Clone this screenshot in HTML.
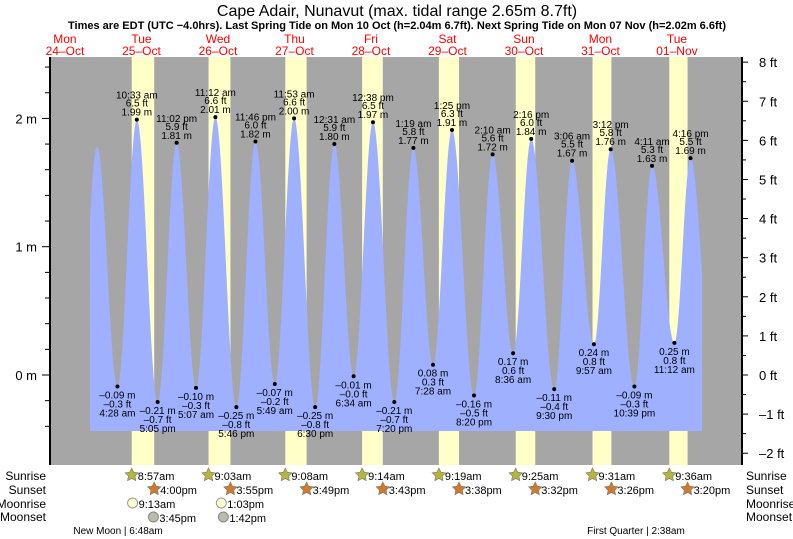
<!DOCTYPE html>
<html><head><meta charset="utf-8"><style>
html,body{margin:0;padding:0;background:#fff;}
svg{display:block;font-family:"Liberation Sans",sans-serif;}
</style></head><body>
<svg id="chart" width="793" height="539" viewBox="0 0 793 539" xmlns="http://www.w3.org/2000/svg">
<text x="397" y="16" font-size="16" text-anchor="middle" fill="#000">Cape Adair, Nunavut (max. tidal range 2.65m 8.7ft)</text>
<text x="397" y="29" font-size="11" font-weight="bold" text-anchor="middle" textLength="658" lengthAdjust="spacingAndGlyphs" fill="#000">Times are EDT (UTC −4.0hrs). Last Spring Tide on Mon 10 Oct (h=2.04m 6.7ft). Next Spring Tide on Mon 07 Nov (h=2.02m 6.6ft)</text>
<g id="plot"></g>
</svg>
<script>
// ---- data ----
const dayNames = ["Mon","Tue","Wed","Thu","Fri","Sat","Sun","Mon","Tue"];
const dayDates = ["24\u2013Oct","25\u2013Oct","26\u2013Oct","27\u2013Oct","28\u2013Oct","29\u2013Oct","30\u2013Oct","31\u2013Oct","01\u2013Nov"];
// tide extremes: day index (0 = Oct 24), time string, height (m)
const tideDay = [0,0,1,1,1,1,2,2,2,2,3,3,3,4,4,4,4,5,5,5,5,6,6,6,6,7,7,7,7,8,8,8,8];
const tideTime = ["3:50 pm","10:05 pm","4:28 am","10:33 am","5:05 pm","11:02 pm","5:07 am","11:12 am","5:46 pm","11:46 pm","5:49 am","11:53 am","6:30 pm","12:31 am","6:34 am","12:38 pm","7:20 pm","1:19 am","7:28 am","1:25 pm","8:20 pm","2:10 am","8:36 am","2:16 pm","9:30 pm","3:06 am","9:57 am","3:12 pm","10:39 pm","4:11 am","11:12 am","4:16 pm","11:20 pm"];
const tideHeight = [-0.20,1.78,-0.09,1.99,-0.21,1.81,-0.10,2.01,-0.25,1.82,-0.07,2.00,-0.25,1.80,-0.01,1.97,-0.21,1.77,0.08,1.91,-0.16,1.72,0.17,1.84,-0.11,1.67,0.24,1.76,-0.09,1.63,0.25,1.69,-0.05];
const tideLabeled = [false,false,true,true,true,true,true,true,true,true,true,true,true,true,true,true,true,true,true,true,true,true,true,true,true,true,true,true,true,true,true,true,false];
const sunrise = ["8:57am","9:03am","9:08am","9:14am","9:19am","9:25am","9:31am","9:36am"];
const sunset = ["4:00pm","3:55pm","3:49pm","3:43pm","3:38pm","3:32pm","3:26pm","3:20pm"];
const moonriseDay = [1,2]; const moonrise = ["9:13am","1:03pm"];
const moonsetDay = [1,2]; const moonset = ["3:45pm","1:42pm"];
const mTicks = [0,1,2];
const ftTicks = [-2,-1,0,1,2,3,4,5,6,7,8];

// ---- scales ----
const X0 = 50, X1 = 742, Y0 = 57, Y1 = 465;
const PXDAY = 76.5, MID0 = 103.2 - PXDAY; // midnight Oct 24
const Y_ZERO = 375, PXM = 128.3;
const xs = d => MID0 + d * PXDAY;
const ys = m => Y_ZERO - m * PXM;
function parseT(s){ const m = s.match(/(\d+):(\d+)\s*(am|pm)/); let h=+m[1]%12; if(m[3]==='pm')h+=12; return (h*60+ +m[2])/1440; }
const NS="http://www.w3.org/2000/svg";
const plot=document.getElementById('plot');
function el(tag, attrs, parent){ const e=document.createElementNS(NS,tag); for(const k in attrs)e.setAttribute(k,attrs[k]); (parent||plot).appendChild(e); return e; }
function txt(x,y,s,size,fill,anchor,parent){ const t=el('text',{x:x,y:y,'font-size':size,fill:fill||'#000','text-anchor':anchor||'middle'},parent); t.textContent=s; return t; }

// background
const bg=el('rect',{x:X0,y:Y0,width:X1-X0,height:Y1-Y0,fill:'#a6a6a6'});


// daylight
for(let i=0;i<sunrise.length;i++){
  const d=i+1; const a=xs(d+parseT(sunrise[i])), b=xs(d+0.5+parseT(sunset[i].replace('pm','am'))) ;
  const r=el('rect',{x:a,y:Y0,width:b-a,height:Y1-Y0,fill:'#ffffc8'});
  
  
}
// tide curve
const tT = tideTime.map((s,i)=>tideDay[i]+parseT(s));
function hAt(t){ for(let i=0;i<tT.length-1;i++){ if(t>=tT[i]&&t<=tT[i+1]){ const f=(t-tT[i])/(tT[i+1]-tT[i]); return tideHeight[i]+(tideHeight[i+1]-tideHeight[i])*(1-Math.cos(Math.PI*f))/2; } } return 0; }
const FX0=90, FX1=702, FY=431;
let dpath=`M${FX0},${FY}`;
for(let x=FX0;x<=FX1;x+=0.5){ dpath+=` L${x},${ys(hAt((x-MID0)/PXDAY)).toFixed(2)}`; }
dpath+=` L${FX1},${FY} Z`;
const area=el('path',{d:dpath,fill:'#9eb0ff'});


// extremes
for(let i=0;i<tT.length;i++){
  if(!tideLabeled[i]) continue;
  const x=xs(tT[i]), y=ys(tideHeight[i]);
  const g=el('g',{});
  
  
  el('circle',{cx:x,cy:y,r:2,fill:'#000'},g);
  const m=tideHeight[i].toFixed(2).replace('-','\u2013')+' m';
  let ftv=(tideHeight[i]*3.28084).toFixed(1); if(ftv==='-0.0')ftv='\u20130.0'; ftv=ftv.replace('-','\u2013')+' ft';
  if(tideHeight[i]>1){ txt(x,y-21,tideTime[i],10,'#000','middle',g); txt(x,y-13,ftv,10,'#000','middle',g); txt(x,y-4,m,10,'#000','middle',g); }
  else { txt(x,y+12,m,10,'#000','middle',g); txt(x,y+21,ftv,10,'#000','middle',g); txt(x,y+30,tideTime[i],10,'#000','middle',g); }
}
// axes
const ax=el('g',{});


el('line',{x1:X0,y1:Y0,x2:X0,y2:Y1,stroke:'#000','stroke-width':2},ax);
for(let v=-0.4;v<=2.45;v+=0.2){ el('line',{x1:X0-(Math.abs(v-Math.round(v))<0.01?8:5),y1:ys(v),x2:X0,y2:ys(v),stroke:'#000'},ax); }
mTicks.forEach(v=>txt(37,ys(v)+5,v+' m',13,'#000','end',ax));
const ax2=el('g',{});


el('line',{x1:X1,y1:Y0,x2:X1,y2:Y1,stroke:'#000','stroke-width':2},ax2);
for(let v=-2.5;v<=8.5;v+=0.5){ const y=ys(v*0.3048); if(y<Y0||y>Y1)continue; el('line',{x1:X1,y1:y,x2:X1+(v%1===0?6:4),y2:y,stroke:'#000'},ax2); }
ftTicks.forEach(v=>txt(759,ys(v*0.3048)+5,(v<0?'\u2013'+(-v):v)+' ft',13,'#000','start',ax2));
// day labels
for(let i=0;i<dayNames.length;i++){
  const x=xs(i+0.5);
  const g=el('g',{});
  
  
  txt(x,43,dayNames[i],12,'#ff0000','middle',g); txt(x,55,dayDates[i],12,'#ff0000','middle',g);
}
// row labels
const rows=["Sunrise","Sunset","Moonrise","Moonset"], ry=[480,494,508,521];
rows.forEach((r,i)=>{ const a=txt(46,ry[i],r,12,'#000','end');  
  const b=txt(746,ry[i],r,12,'#000','start');   });
function star(cx,cy,fill){ let p=''; for(let k=0;k<10;k++){ const r=k%2?3.5:7, a=-Math.PI/2+k*Math.PI/5; p+=(k?'L':'M')+(cx+r*Math.cos(a)).toFixed(1)+','+(cy+r*Math.sin(a)).toFixed(1);} return el('path',{d:p+'Z',fill:fill,stroke:'#777','stroke-width':0.6}); }
for(let i=0;i<sunrise.length;i++){
  const d=i+1;
  const x1=xs(d+parseT(sunrise[i])); const s1=star(x1,475,'#b5b53a');
   
  txt(x1+6,480,sunrise[i],11,'#000','start');
  const x2=xs(d+parseT(sunset[i])); const s2=star(x2,489,'#d07a2a');
   
  txt(x2+6,494,sunset[i],11,'#000','start');
}
for(let i=0;i<moonrise.length;i++){
  const x=xs(moonriseDay[i]+parseT(moonrise[i])); const c=el('circle',{cx:x,cy:503,r:5,fill:'#ffffcc',stroke:'#999'});
   
  txt(x+6,508,moonrise[i],11,'#000','start');
}
for(let i=0;i<moonset.length;i++){
  const x=xs(moonsetDay[i]+parseT(moonset[i])); const c=el('circle',{cx:x,cy:517,r:5,fill:'#bbbbaa',stroke:'#888'});
   
  txt(x+6,522,moonset[i],11,'#000','start');
}
const nm=txt(118,534,'New Moon | 6:48am',10);  
const fq=txt(636,534,'First Quarter | 2:38am',10);  
</script>
</body></html>
